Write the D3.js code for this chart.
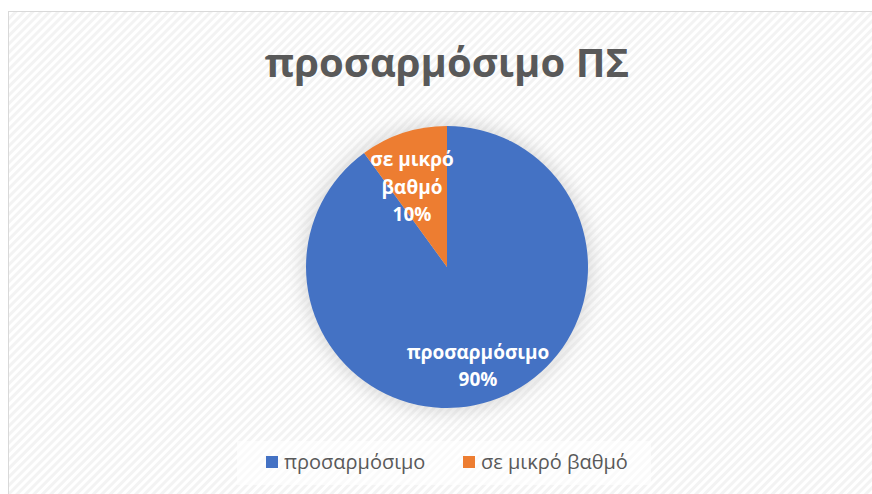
<!DOCTYPE html>
<html>
<head>
<meta charset="utf-8">
<script src="https://cdn.jsdelivr.net/npm/d3@7"></script>
<style>
  body { margin: 0; background: #fff; }
  svg { display: block; }
</style>
</head>
<body>
<svg id="chart" width="872" height="494"></svg>
<script>
// chart values
const categories = ["προσαρμόσιμο", "σε μικρό βαθμό"];
const values = [90, 10];
const colours = ["#4472c4", "#ed7d31"];
const titleText = "προσαρμόσιμο ΠΣ";

const W = 872, H = 494;
const cx = 447, cy = 267, radius = 141;
const fontFam = "'Open Sans', 'Noto Sans', sans-serif";

const svg = d3.select("#chart");
const defs = svg.append("defs");

// diagonal stripe background
const pat = defs.append("pattern")
    .attr("id", "stripes")
    .attr("patternUnits", "userSpaceOnUse")
    .attr("width", 6).attr("height", 6)
    .attr("patternTransform", "rotate(-45)");
pat.append("rect").attr("width", 6).attr("height", 6).attr("fill", "#ffffff");
pat.append("rect").attr("width", 6).attr("height", 3).attr("fill", "#f3f3f3");

const glow = defs.append("filter").attr("id", "glow")
    .attr("x", "-30%").attr("y", "-30%").attr("width", "160%").attr("height", "160%");
glow.append("feGaussianBlur").attr("stdDeviation", 9);

svg.append("rect")
    .attr("x", 8.5).attr("y", 11.5)
    .attr("width", W).attr("height", H)
    .attr("fill", "url(#stripes)")
    .attr("stroke", "#d9d9d9");

// title
svg.append("text")
    .attr("x", cx).attr("y", 77)
    .attr("text-anchor", "middle")
    .style("font-family", fontFam)
    .style("font-weight", "bold")
    .style("font-size", "40px")
    .attr("fill", "#595959")
    .text(titleText);

// pie
const pie = d3.pie().sort(null).value(d => d.v);
const arcs = pie(categories.map((c, i) => ({c: c, v: values[i], col: colours[i]})));
const arc = d3.arc().innerRadius(0).outerRadius(radius);

const g = svg.append("g").attr("transform", `translate(${cx},${cy})`);

g.append("circle")
    .attr("r", radius + 4)
    .attr("fill", "#bfbfbf")
    .attr("opacity", 0.55)
    .attr("filter", "url(#glow)");

g.selectAll("path.slice").data(arcs).enter().append("path")
    .attr("class", "slice")
    .attr("d", arc)
    .attr("fill", d => d.data.col);

// data labels
const total = d3.sum(values);
const labelLines = [
    ["προσαρμόσιμο"],
    ["σε μικρό", "βαθμό"]
];
const labelOffsets = [[31, 99], [-35, -80]];

arcs.forEach((d, i) => {
    const lines = labelLines[i].concat([Math.round(d.data.v / total * 100) + "%"]);
    const t = g.append("text")
        .attr("text-anchor", "middle")
        .attr("fill", "#ffffff")
        .style("font-family", fontFam)
        .style("font-weight", "bold")
        .style("font-size", "19px");
    const n = lines.length;
    lines.forEach((l, j) => {
        t.append("tspan")
            .attr("x", labelOffsets[i][0])
            .attr("y", labelOffsets[i][1] + (j - (n - 1) / 2) * 27.5)
            .attr("dy", "0.35em")
            .text(l);
    });
});

// legend
const legend = svg.append("g");
legend.append("rect")
    .attr("x", 237).attr("y", 441)
    .attr("width", 414).attr("height", 44)
    .attr("fill", "#ffffff").attr("opacity", 0.6);

const legX = [266, 463];
categories.forEach((c, i) => {
    legend.append("rect")
        .attr("x", legX[i]).attr("y", 456)
        .attr("width", 12).attr("height", 12)
        .attr("fill", colours[i]);
    legend.append("text")
        .attr("x", legX[i] + 18).attr("y", 462)
        .attr("dy", "0.35em")
        .attr("fill", "#595959")
        .style("font-family", fontFam)
        .style("font-size", "20px")
        .text(c);
});
</script>
</body>
</html>
